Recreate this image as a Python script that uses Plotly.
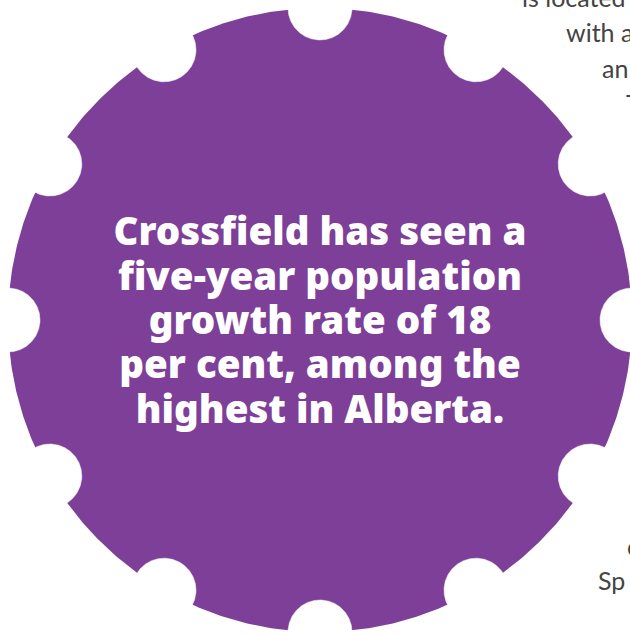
import numpy as np
import plotly.graph_objects as go

# ---- data ----
main_lines = ["Crossfield has seen a", "five-year population", "growth rate of 18",
              "per cent, among the", "highest in Alberta."]
side_top_lines = ["is located", "with a", "an", "T"]
side_bottom_lines = ["c", "Sp"]
notch_angles_deg = [0, 30, 60, 90, 120, 150, 180, 210, 240, 270, 300, 330]

# ---- layout constants ----
W, H = 630, 635
CX, CY, R = 320, 320, 312
NOTCH_R = 32
PURPLE = "#7E3F98"
GRAY = "#444444"

MAIN_FS = 38.5
MAIN_BASE0, MAIN_STEP = 245, 44.3
MAIN_SHIFT = 0.24
SIDE_FS = 25
SIDE_SHIFT = 0.28
side_top_x = [522, 566, 602, 626]
side_top_base = [8, 43, 79, 114]
side_bot_x = [627, 598]
side_bot_base = [557, 591]

fig = go.Figure()

t = np.linspace(0, 2 * np.pi, 721)
fig.add_trace(go.Scatter(x=CX + R * np.cos(t), y=CY - R * np.sin(t), mode="lines",
                         fill="toself", fillcolor=PURPLE, line=dict(width=0),
                         hoverinfo="skip", showlegend=False))

for a in notch_angles_deg:
    ar = np.deg2rad(a)
    nx, ny = CX + R * np.cos(ar), CY - R * np.sin(ar)
    fig.add_trace(go.Scatter(x=nx + NOTCH_R * np.cos(t), y=ny - NOTCH_R * np.sin(t),
                             mode="lines", fill="toself", fillcolor="white",
                             line=dict(width=0.5, color="white"),
                             hoverinfo="skip", showlegend=False))

main_y = [MAIN_BASE0 + i * MAIN_STEP - MAIN_SHIFT * MAIN_FS for i in range(len(main_lines))]
fig.add_trace(go.Scatter(x=[CX] * len(main_lines), y=main_y, text=main_lines, mode="text",
                         textposition="middle center",
                         textfont=dict(family="Noto Sans", size=MAIN_FS, color="white", weight=900),
                         hoverinfo="skip", showlegend=False))

side_x = side_top_x + side_bot_x
side_y = [b - SIDE_SHIFT * SIDE_FS for b in side_top_base + side_bot_base]
fig.add_trace(go.Scatter(x=side_x, y=side_y, text=side_top_lines + side_bottom_lines,
                         mode="text", textposition="middle right", cliponaxis=False,
                         textfont=dict(family="Lato", size=SIDE_FS, color=GRAY),
                         hoverinfo="skip", showlegend=False))

fig.update_layout(width=W, height=H, margin=dict(l=0, r=0, t=0, b=0),
                  paper_bgcolor="white", plot_bgcolor="white",
                  xaxis=dict(range=[0, W], visible=False, fixedrange=True),
                  yaxis=dict(range=[H, 0], visible=False, fixedrange=True))
fig.write_html("out.html", config={"displayModeBar": False},
               post_script="document.body.style.margin='0';")
